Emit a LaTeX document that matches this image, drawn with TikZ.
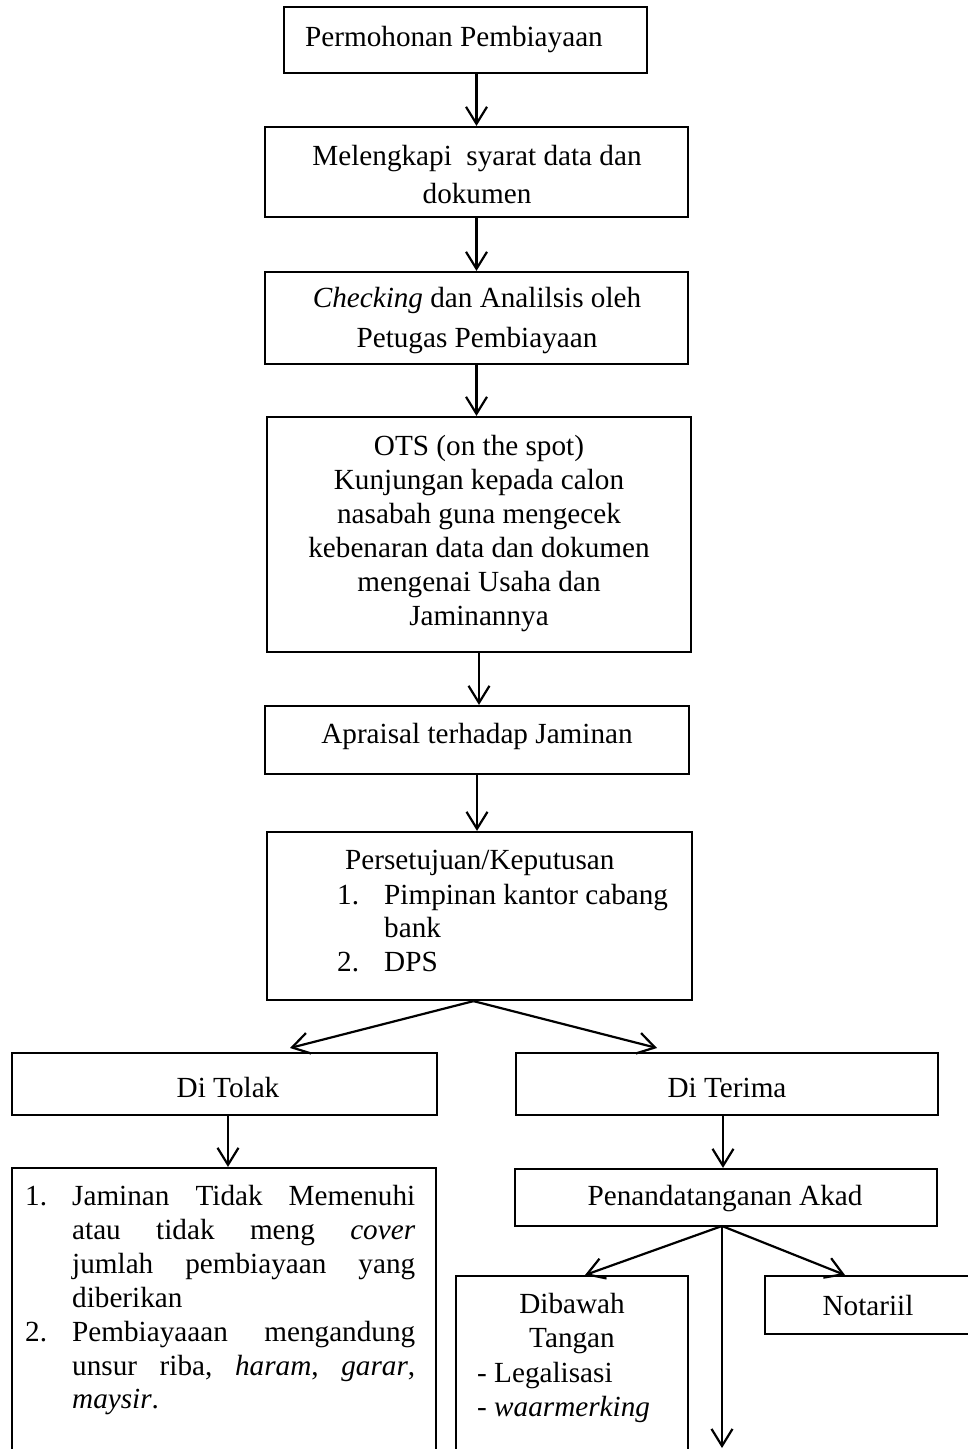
\documentclass[tikz,border=0pt]{standalone}
\usepackage{fontspec}
\setmainfont{Liberation Serif}
\usetikzlibrary{arrows.meta}
\begin{document}
\begin{tikzpicture}[x=1pt,y=-1pt,
  box/.style={draw, line width=2.2pt, inner sep=0pt},
  txt/.style={inner sep=0pt, font=\fontsize{29.2}{34}\selectfont},
  arr/.style={line width=2.2pt, -{Straight Barb[length=17pt,width=21pt,line width=2.2pt]}}]
\useasboundingbox (0,0) rectangle (967,1449);
% boxes
\node[box, minimum width=363pt, minimum height=66pt] (b1) at (465.5,40) {};
\node[box, minimum width=423pt, minimum height=90pt] (b2) at (476.5,172) {};
\node[box, minimum width=423pt, minimum height=92pt] (b3) at (476.5,318) {};
\node[box, minimum width=424pt, minimum height=235pt] (b4) at (479,534.5) {};
\node[box, minimum width=424pt, minimum height=68pt] (b5) at (477,740) {};
\node[box, minimum width=425pt, minimum height=168pt] (b6) at (479.5,916) {};
\node[box, minimum width=425pt, minimum height=62pt] (tolak) at (224.5,1084) {};
\node[box, minimum width=422pt, minimum height=62pt] (terima) at (727,1084) {};
\node[box, minimum width=424pt, minimum height=302pt] (list) at (224,1319) {};
\node[box, minimum width=422pt, minimum height=57pt] (akad) at (726,1197.5) {};
\node[box, minimum width=232pt, minimum height=194pt] (dibawah) at (572,1373) {};
\node[box, minimum width=225pt, minimum height=58pt] (notariil) at (877.5,1305) {};
% texts
\node[txt, anchor=base west] (t1) at (305,46) {Permohonan Pembiayaan};
\node[txt, anchor=base] (t2a) at (477,165) {Melengkapi\ \ syarat data dan};
\node[txt, anchor=base] (t2b) at (477,203) {dokumen};
\node[txt, anchor=base] (t3a) at (477,307) {\textit{Checking} dan Analilsis oleh};
\node[txt, anchor=base] (t3b) at (477,347) {Petugas Pembiayaan};
\node[txt, anchor=base] (t4a) at (479,455) {OTS (on the spot)};
\node[txt, anchor=base] (t4b) at (479,489) {Kunjungan kepada calon};
\node[txt, anchor=base] (t4c) at (479,523) {nasabah guna mengecek};
\node[txt, anchor=base] (t4d) at (479,557) {kebenaran data dan dokumen};
\node[txt, anchor=base] (t4e) at (479,591) {mengenai Usaha dan};
\node[txt, anchor=base] (t4f) at (479,625) {Jaminannya};
\node[txt, anchor=base] (t5) at (477,743) {Apraisal terhadap Jaminan};
\node[txt, anchor=base west] (t6a) at (345,869) {Persetujuan/Keputusan};
\node[txt, anchor=base west] (t6b) at (337,904) {\makebox[47pt][l]{1.}Pimpinan kantor cabang};
\node[txt, anchor=base west] (t6c) at (384,937) {bank};
\node[txt, anchor=base west] (t6d) at (337,971) {\makebox[47pt][l]{2.}DPS};
\node[txt, anchor=base] (ttolak) at (228,1097) {Di Tolak};
\node[txt, anchor=base] (tterima) at (727,1097) {Di Terima};
\node[txt, anchor=base] (takad) at (725,1205) {Penandatanganan Akad};
\node[txt, anchor=base west] (l1) at (25,1205) {\makebox[47pt][l]{1.}\hbox to 343pt{Jaminan\hfill Tidak\hfill Memenuhi}};
\node[txt, anchor=base west] (l2) at (72,1239) {\hbox to 343pt{atau\hfill tidak\hfill meng\hfill \textit{cover}}};
\node[txt, anchor=base west] (l3) at (72,1273) {\hbox to 343pt{jumlah\hfill pembiayaan\hfill yang}};
\node[txt, anchor=base west] (l4) at (72,1307) {diberikan};
\node[txt, anchor=base west] (l5) at (25,1341) {\makebox[47pt][l]{2.}\hbox to 343pt{Pembiayaaan\hfill mengandung}};
\node[txt, anchor=base west] (l6) at (72,1375) {\hbox to 343pt{unsur\hfill riba,\hfill \textit{haram},\hfill \textit{garar},}};
\node[txt, anchor=base west] (l7) at (72,1408) {\textit{maysir}.};
\node[txt, anchor=base] (td1) at (572,1313) {Dibawah};
\node[txt, anchor=base] (td2) at (572,1347) {Tangan};
\node[txt, anchor=base west] (td3) at (477,1382) {- Legalisasi};
\node[txt, anchor=base west] (td4) at (477,1416) {- \textit{waarmerking}};
\node[txt, anchor=base] (tnot) at (868,1315) {Notariil};
% connectors
\coordinate (tolakin) at (290,1048);
\coordinate (terimain) at (657,1048);
\coordinate (akadout) at (722,1226);
\coordinate (dibin) at (585,1275);
\coordinate (notin) at (845,1275);
\coordinate (downend) at (722,1448);
\draw[arr] (b1.south -| b2.north) -- (b2.north);
\draw[arr] (b2.south) -- (b3.north);
\draw[arr] (b3.south) -- (b3.south |- b4.north);
\draw[arr] (b4.south) -- (b4.south |- b5.north);
\draw[arr] (b5.south) -- (b5.south |- b6.north);
\draw[arr] ([xshift=-6pt]b6.south) -- (tolakin);
\draw[arr] ([xshift=-6pt]b6.south) -- (terimain);
\draw[arr] ([xshift=3.5pt]tolak.south) -- ([xshift=3.5pt]tolak.south |- list.north);
\draw[arr] ([xshift=-4pt]terima.south) -- ([xshift=-4pt]terima.south |- akad.north);
\draw[arr] (akadout) -- (dibin);
\draw[arr] (akadout) -- (notin);
\draw[arr] (akadout) -- (downend);
\end{tikzpicture}
\end{document}
